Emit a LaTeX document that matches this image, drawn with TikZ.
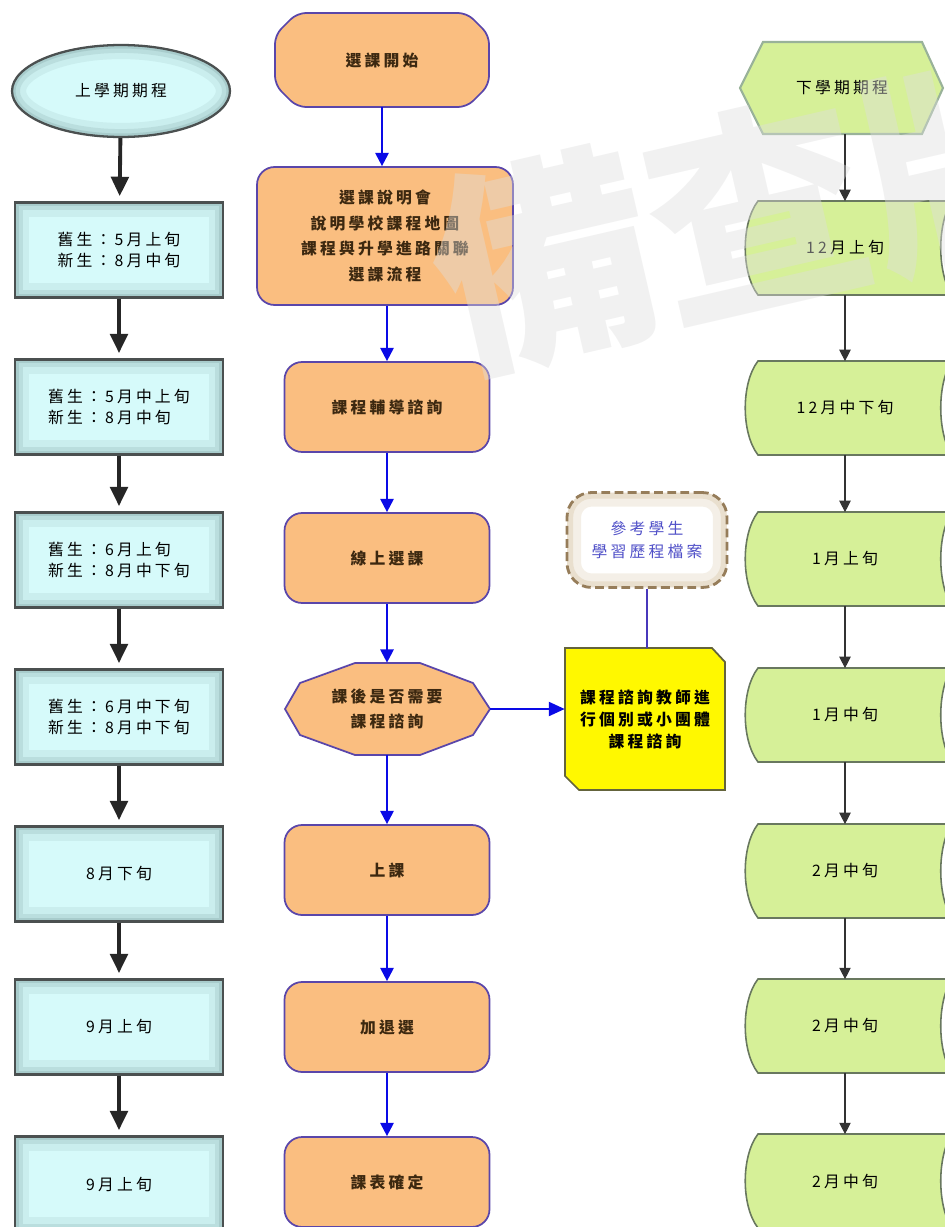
\documentclass[tikz,border=0pt]{standalone}
\usepackage{fontspec}
\newfontfamily\cjk[LetterSpace=20]{Noto Sans CJK TC}
\newfontfamily\wmfont{Noto Sans CJK TC}
\usetikzlibrary{shapes.geometric,arrows.meta}
\definecolor{lcyan}{RGB}{214,250,250}
\definecolor{lglow}{RGB}{100,135,135}
\definecolor{lborder}{RGB}{75,80,80}
\definecolor{orfill}{RGB}{250,190,128}
\definecolor{orborder}{RGB}{90,70,170}
\definecolor{ortext}{RGB}{60,40,16}
\definecolor{grfill}{RGB}{214,240,152}
\definecolor{grborder}{RGB}{105,120,95}
\definecolor{notefill}{RGB}{255,248,0}
\definecolor{noteborder}{RGB}{100,100,60}
\definecolor{cloudline}{RGB}{150,125,90}
\definecolor{cloudfill}{RGB}{215,195,160}
\definecolor{cloudtext}{RGB}{80,80,200}
\definecolor{arrowblue}{RGB}{10,10,230}
\definecolor{wmgray}{RGB}{222,222,222}
\begin{document}
\begin{tikzpicture}[x=0.02cm, y=-0.02cm, font=\cjk\fontsize{9}{11.5}\selectfont,
  lbox/.style={rectangle, draw=lborder, line width=1.3pt, fill=lcyan,
    minimum width=4.16cm, minimum height=1.9cm, align=left,
    path picture={
      \draw[lglow, line width=16pt, opacity=.1] (path picture bounding box.south west) rectangle (path picture bounding box.north east);
      \draw[lglow, line width=9pt, opacity=.15] (path picture bounding box.south west) rectangle (path picture bounding box.north east);
      \draw[lglow, line width=4pt, opacity=.2] (path picture bounding box.south west) rectangle (path picture bounding box.north east);}},
  loval/.style={ellipse, draw=lborder, line width=1.3pt, fill=lcyan,
    minimum width=4.36cm, minimum height=1.84cm, inner sep=0pt,
    path picture={
      \draw[lglow, line width=16pt, opacity=.1] (path picture bounding box.center) ellipse [x radius=2.18cm, y radius=.92cm];
      \draw[lglow, line width=9pt, opacity=.15] (path picture bounding box.center) ellipse [x radius=2.18cm, y radius=.92cm];
      \draw[lglow, line width=4pt, opacity=.2] (path picture bounding box.center) ellipse [x radius=2.18cm, y radius=.92cm];}},
  obox/.style={rectangle, rounded corners=10pt, draw=orborder, line width=1pt, fill=orfill,
    minimum width=4.1cm, minimum height=1.8cm, align=center, text=ortext,
    font=\cjk\bfseries\fontsize{9}{14.5}\selectfont},
  oshape/.style={draw=orborder, line width=1pt, fill=orfill},
  otext/.style={align=center, text=ortext, font=\cjk\bfseries\fontsize{9}{14.5}\selectfont},
  gshape/.style={draw=grborder, line width=.9pt, fill=grfill},
  gtext/.style={minimum width=4cm, minimum height=1.86cm, inner sep=0pt},
  larrow/.style={-{Triangle[width=10pt,length=11pt]}, line width=2.2pt, black!85},
  marrow/.style={-{Triangle[width=7.5pt,length=7.5pt]}, line width=1.2pt, arrowblue},
  rarrow/.style={-{Triangle[width=6.5pt,length=6.5pt]}, line width=.6pt, black!80}]
  \useasboundingbox (0,0) rectangle (945,1227);
  \clip (0,0) rectangle (945,1227);
  % 左欄：上學期期程
  \node[loval] (up) at (121,91) {上學期期程};
  \node[lbox] (l1) at (119,250) {舊生：5月上旬\\新生：8月中旬};
  \node[lbox] (l2) at (119,407) {舊生：5月中上旬\\新生：8月中旬};
  \node[lbox] (l3) at (119,560) {舊生：6月上旬\\新生：8月中下旬};
  \node[lbox] (l4) at (119,717) {舊生：6月中下旬\\新生：8月中下旬};
  \node[lbox] (l5) at (119,874) {8月下旬};
  \node[lbox] (l6) at (119,1027) {9月上旬};
  \node[lbox] (l7) at (119,1184) {9月上旬};
  \draw[larrow, shorten >=3pt] (up) -- (l1);
  \draw[larrow, shorten >=3pt] (l1) -- (l2);
  \draw[larrow, shorten >=3pt] (l2) -- (l3);
  \draw[larrow, shorten >=3pt] (l3) -- (l4);
  \draw[larrow, shorten >=3pt] (l4) -- (l5);
  \draw[larrow, shorten >=3pt] (l5) -- (l6);
  \draw[larrow, shorten >=3pt] (l6) -- (l7);
  % 中欄：選課流程
  \draw[oshape, rounded corners=5pt, shift={(382,60)}] (-85,-47) -- (85,-47) -- (107,-25) -- (107,25)
    -- (85,47) -- (-85,47) -- (-107,25) -- (-107,-25) -- cycle;
  \node[otext, minimum width=4.28cm, minimum height=1.88cm] (start) at (382,60) {選課開始};
  \node[obox, minimum width=5.12cm, minimum height=2.76cm] (info) at (385,236)
    {選課說明會\\說明學校課程地圖\\課程與升學進路關聯\\選課流程};
  \node[obox] (guide) at (387,407) {課程輔導諮詢};
  \node[obox] (online) at (387,558) {線上選課};
  \draw[oshape, shift={(387,709)}] (-32,-46) -- (33,-46) -- (86,-26) -- (103,0) -- (86,26) -- (33,46)
    -- (-32,46) -- (-87,26) -- (-102,0) -- (-87,-26) -- cycle;
  \node[otext, minimum width=4.1cm, minimum height=1.84cm] (ask) at (387,709) {課後是否需要\\課程諮詢};
  \node[obox] (class) at (387,870) {上課};
  \node[obox] (adddrop) at (387,1027) {加退選};
  \node[obox] (final) at (387,1182) {課表確定};
  \draw[marrow] (start.south) -- (start.south |- info.north);
  \draw[marrow] (info.south -| guide.north) -- (guide.north);
  \draw[marrow] (guide) -- (online);
  \draw[marrow] (online) -- (ask);
  \draw[marrow] (ask) -- (class);
  \draw[marrow] (class) -- (adddrop);
  \draw[marrow] (adddrop) -- (final);
  % 諮詢教師與學習歷程檔案
  \draw[fill=notefill, draw=noteborder, line width=1pt, shift={(645,719)}] (-80,-71) -- (67,-71) -- (80,-57)
    -- (80,71) -- (-66,71) -- (-80,57) -- cycle;
  \node[otext, text=black, font=\cjk\bfseries\fontsize{9}{12.5}\selectfont, minimum width=3.2cm, minimum height=2.84cm]
    (teacher) at (645,719) {課程諮詢教師進\\行個別或小團體\\課程諮詢};
  \node[rectangle, rounded corners=14pt, draw=cloudline, line width=1.6pt, dash pattern=on 5pt off 2.5pt,
    fill=white, minimum width=3.2cm, minimum height=1.9cm, align=center,
    text=cloudtext, font=\cjk\fontsize{9}{13}\selectfont,
    path picture={
      \draw[solid, cloudfill, line width=16pt, opacity=.25, rounded corners=14pt] (path picture bounding box.south west) rectangle (path picture bounding box.north east);
      \draw[solid, cloudfill, line width=7pt, opacity=.35, rounded corners=14pt] (path picture bounding box.south west) rectangle (path picture bounding box.north east);}]
    (portfolio) at (647,540) {參考學生\\學習歷程檔案};
  \draw[-{Triangle[width=8pt,length=9pt]}, line width=1pt, arrowblue] (ask.east) -- (teacher.west |- ask.east);
  \draw[line width=1pt, orborder!80!blue] (portfolio.south) -- (portfolio.south |- teacher.north);
  % 右欄：下學期期程
  \draw[gshape, line width=1.2pt, draw=black!75!green!40, shift={(842,88)}] (-79,-46) -- (80,-46) -- (101,0)
    -- (80,46) -- (-79,46) -- (-102,0) -- cycle;
  \node[minimum width=4.06cm, minimum height=1.84cm, inner sep=0pt] (down) at (842,88) {下學期期程};
  \foreach \yy in {248,408,559,715,871,1026,1181}
    \draw[gshape, shift={(845,\yy)}] (-87,-47) -- (107,-47) .. controls (92,-25) and (92,25) .. (107,47)
      -- (-87,47) .. controls (-104,25) and (-104,-25) .. (-87,-47) -- cycle;
  \node[gtext] (r1) at (845,248) {12月上旬};
  \node[gtext] (r2) at (845,408) {12月中下旬};
  \node[gtext] (r3) at (845,559) {1月上旬};
  \node[gtext] (r4) at (845,715) {1月中旬};
  \node[gtext] (r5) at (845,871) {2月中旬};
  \node[gtext] (r6) at (845,1026) {2月中旬};
  \node[gtext] (r7) at (845,1181) {2月中旬};
  \draw[rarrow] (down.south -| r1.north) -- (r1.north);
  \draw[rarrow] (r1) -- (r2);
  \draw[rarrow] (r2) -- (r3);
  \draw[rarrow] (r3) -- (r4);
  \draw[rarrow] (r4) -- (r5);
  \draw[rarrow] (r5) -- (r6);
  \draw[rarrow] (r6) -- (r7);
  % 浮水印
  \node[rotate=13, text=wmgray, opacity=.42, font=\wmfont\bfseries\fontsize{125}{125}\selectfont] (mark) at (758,212) {備查版};
\end{tikzpicture}
\end{document}
